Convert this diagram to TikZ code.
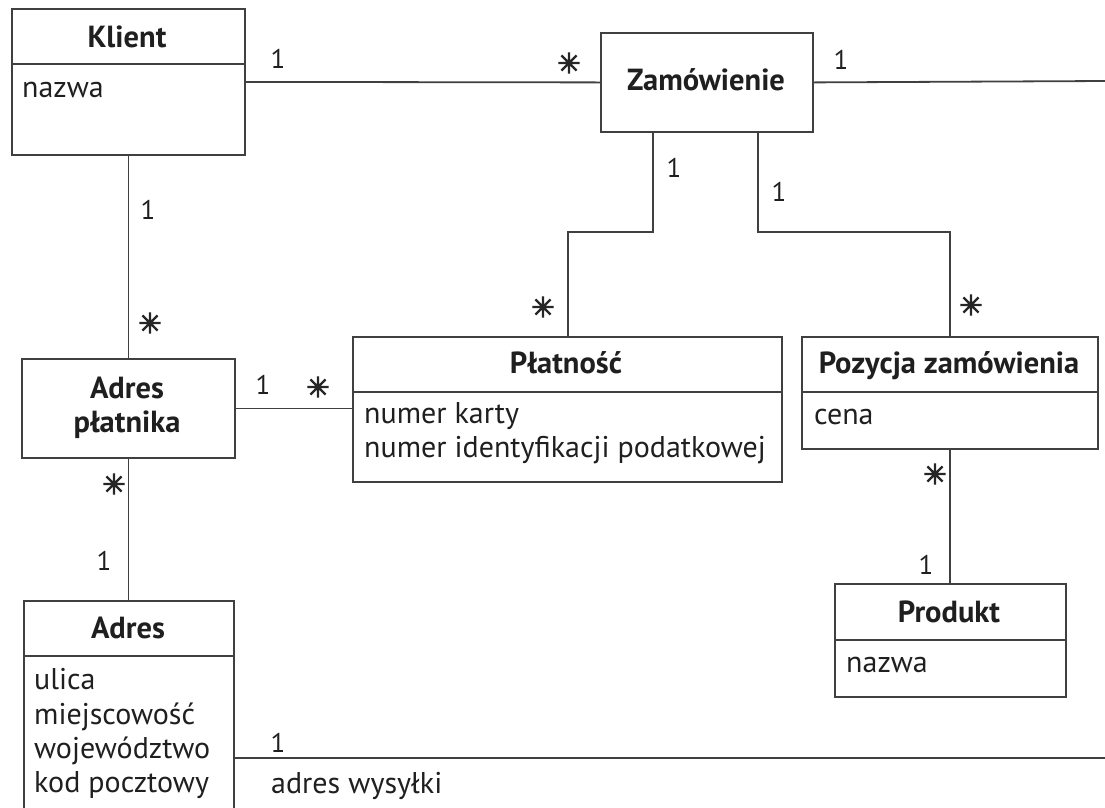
\documentclass[tikz,border=0pt]{standalone}
\usepackage{fontspec}
\setmainfont{PT Sans}
\newfontfamily\symfont[FakeBold=3.5]{DejaVu Sans}
\begin{document}
\begin{tikzpicture}[x=1pt,y=-1pt,
  box/.style={draw=black!75,line width=1.8pt,anchor=north west,inner sep=0pt},
  conn/.style={draw=black!75,line width=1.8pt},
  ttl/.style={anchor=base,inner sep=0pt,font=\fontsize{30.5}{35}\selectfont\bfseries,text=black!88},
  attr/.style={anchor=base west,inner sep=0pt,font=\fontsize{30}{34}\selectfont,text=black!88},
  mult/.style={inner sep=0pt,font=\fontsize{27}{30}\selectfont,text=black!88},
  star/.style={inner sep=0pt,font=\fontsize{28}{30}\symfont,text=black!85}]
\useasboundingbox (0,0) rectangle (1105,807);
% boxes
\node[box,minimum width=233pt,minimum height=146pt] (kl) at (11,8) {};
\node[box,minimum width=212pt,minimum height=99pt] (zam) at (600,32) {};
\node[box,minimum width=213pt,minimum height=99pt] (adp) at (21,358) {};
\node[box,minimum width=429pt,minimum height=145pt] (pl) at (352,336) {};
\node[box,minimum width=296pt,minimum height=112pt] (poz) at (801,336) {};
\node[box,minimum width=231pt,minimum height=113pt] (pr) at (834,583) {};
\node[box,minimum width=210pt,minimum height=230pt] (ad) at (23,600) {};
% dividers
\draw[conn] (kl.west |- 0,64) -- (kl.east |- 0,64);
\draw[conn] (pl.west |- 0,392) -- (pl.east |- 0,392);
\draw[conn] (poz.west |- 0,392) -- (poz.east |- 0,392);
\draw[conn] (pr.west |- 0,640) -- (pr.east |- 0,640);
\draw[conn] (ad.west |- 0,656) -- (ad.east |- 0,656);
% titles
\node[ttl] (tkl) at (127,47) {Klient};
\node[ttl] (tzam) at (706,90) {Zamówienie};
\node[ttl] (tadp1) at (127,398) {Adres};
\node[ttl] (tadp2) at (127,432) {płatnika};
\node[ttl] (tpl) at (566,373) {Płatność};
\node[ttl] (tpoz) at (949,373) {Pozycja zamówienia};
\node[ttl] (tpr) at (949,622) {Produkt};
\node[ttl] (tad) at (128,638) {Adres};
% attributes
\node[attr] (akl) at (22,97) {nazwa};
\node[attr] (apl1) at (364,423) {numer karty};
\node[attr] (apl2) at (364,457) {numer identyfikacji podatkowej};
\node[attr] (apoz) at (814,424) {cena};
\node[attr] (apr) at (846,672) {nazwa};
\node[attr] (aad1) at (34,689) {ulica};
\node[attr] (aad2) at (34,724) {miejscowość};
\node[attr] (aad3) at (34,758) {województwo};
\node[attr] (aad4) at (34,792) {kod pocztowy};
\node[attr] (lwys) at (271,793) {adres wysyłki};
% connector helpers
\coordinate (r1) at (1105,81);
\coordinate (r2) at (1105,758);
\coordinate (zl) at (653,131);
\coordinate (zr) at (758,131);
\coordinate (plt) at (568,336);
\coordinate (pozt) at (950,336);
\coordinate (adr) at (233,758);
% connectors
\draw[conn] (kl.east) -- (zam.west);
\draw[conn] (zam.east) -- (r1);
\draw[conn] (zl) |- (plt |- 0,232) -- (plt);
\draw[conn] (zr) |- (pozt |- 0,232) -- (pozt);
\draw[conn] (kl.south) -- (adp.north);
\draw[conn] (adp.east) -- (adp.east -| pl.west);
\draw[conn] (adp.south) -- (adp.south |- ad.north);
\draw[conn] (poz.south -| pozt) -- (pozt |- pr.north);
\draw[conn] (adr) -- (r2);
% multiplicities
\node[mult] (m1) at (278,59) {1};
\node[star] (m2) at (569,63) {✳};
\node[mult] (m3) at (841,60) {1};
\node[mult] (m4) at (674,168) {1};
\node[mult] (m5) at (779,192) {1};
\node[star] (m6) at (543,307) {✳};
\node[star] (m7) at (971,305) {✳};
\node[mult] (m8) at (148,210) {1};
\node[star] (m9) at (150,323) {✳};
\node[mult] (m10) at (263,385) {1};
\node[star] (m11) at (318,387) {✳};
\node[star] (m12) at (114,484) {✳};
\node[mult] (m13) at (104,561) {1};
\node[star] (m14) at (935,474) {✳};
\node[mult] (m15) at (926,565) {1};
\node[mult] (m16) at (278,743) {1};
\end{tikzpicture}
\end{document}
